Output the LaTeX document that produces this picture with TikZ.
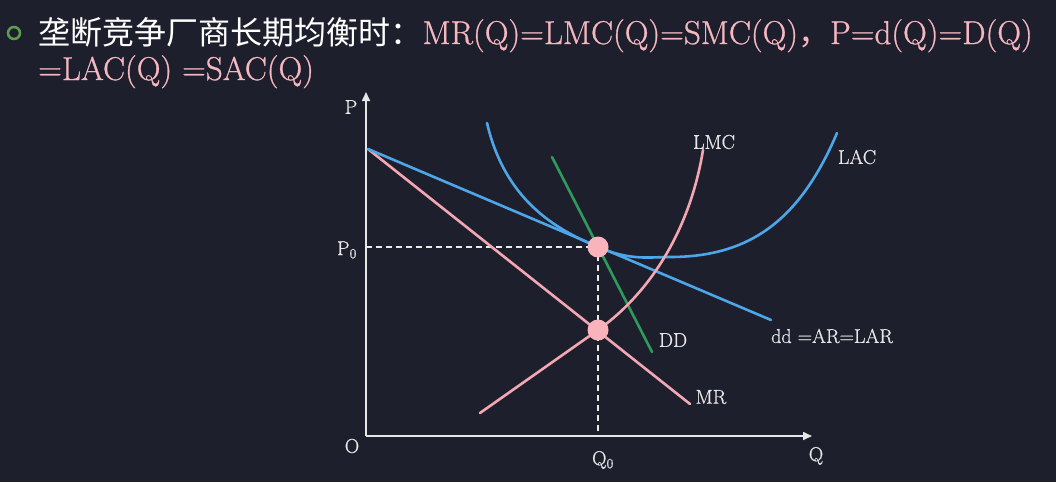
\documentclass[tikz,border=0pt]{standalone}
\usepackage{fontspec}
\newfontfamily\cjk{Noto Sans CJK SC}
\newfontfamily\lmheavy{Latin Modern Roman}[FakeBold=0.8]
\usetikzlibrary{arrows.meta}
\definecolor{bg}{HTML}{1E1F2C}
\definecolor{axisc}{HTML}{E6E6E6}
\definecolor{bluec}{HTML}{4DA6E8}
\definecolor{pinkc}{HTML}{F2A7B3}
\definecolor{greenc}{HTML}{2E9A5C}
\definecolor{dotc}{HTML}{F8B4BA}
\definecolor{titlepink}{HTML}{F6B8C0}
\definecolor{bulletc}{HTML}{5A9E4E}
\begin{document}
\begin{tikzpicture}[x=1pt, y=-1pt,
    every node/.style={text=axisc, inner sep=0pt, font=\lmheavy\fontsize{20}{24}\selectfont},
    axis/.style={line width=1.6pt, draw=axisc, -{Triangle[length=9pt,width=8pt]}},
    curve/.style={line width=2.6pt, line cap=round},
    guide/.style={line width=1.4pt, draw=axisc!80, dash pattern=on 6pt off 4pt},
    dot/.style={circle, fill=dotc, minimum size=21pt},
    title/.style={anchor=base west, font=\lmheavy\fontsize{33}{38}\selectfont}]
  \fill[bg] (0,0) rectangle (1056,482);
  % title
  \draw[bulletc, line width=2.5pt] (14,33) circle (6);
  \node[title, text=white] (head) at (38,44) {\cjk\fontsize{32}{38}\selectfont 垄断竞争厂商长期均衡时：};
  \node[title, text=titlepink] (cond) at (head.base east) {MR(Q)=LMC(Q)=SMC(Q){\cjk\fontsize{32}{38}\selectfont ，}P=d(Q)=D(Q)};
  \node[title, text=titlepink] (cond2) at (38,80) {=LAC(Q) =SAC(Q)};
  % axes
  \coordinate (O) at (366,436);
  \coordinate (A) at (368,149);
  \coordinate (e) at (598,247);
  \coordinate (f) at (598,330);
  \draw[axis] (O) -- (366,92);
  \draw[axis] (O) -- (812,436);
  \node (olabel) at (352,446) {O};
  \node (plabel) at (351,107) {P};
  \node (qlabel) at (816,456) {Q};
  \node (p0label) at (347,250) {P\textsubscript{0}};
  \node (q0label) at (603,460) {Q\textsubscript{0}};
  \draw[guide] (O |- e) -- (e) -- (O -| e);
  % curves
  \coordinate (ddend) at (771,320);
  \coordinate (mrend) at (690,404);
  \coordinate (DDtop) at (552,157);
  \coordinate (DDend) at (652,352);
  \coordinate (lmcstart) at (480,413);
  \coordinate (lmcend) at (703,150);
  \draw[curve, pinkc] (A) -- (mrend);
  \draw[curve, greenc] (DDtop) -- (DDend);
  \draw[curve, bluec] (A) -- (ddend);
  \draw[curve, bluec] (487,123) .. controls (505,200) and (555,229) .. (e)
    .. controls (630,261) and (650,257) .. (670,257)
    .. controls (750,257) and (800,220) .. (837,133);
  \draw[curve, pinkc] (lmcstart) -- (f) .. controls (650,293) and (690,230) .. (lmcend);
  \node[dot] (E) at (e) {};
  \node[dot] (F) at (f) {};
  % labels
  \node (lmclabel) at (714,142) {LMC};
  \node (laclabel) at (857,157) {LAC};
  \node (DDlabel) at (673,340) {DD};
  \node[anchor=west] (ddlabel) at (771,336) {dd =AR=LAR};
  \node (mrlabel) at (711,397) {MR};
\end{tikzpicture}
\end{document}
